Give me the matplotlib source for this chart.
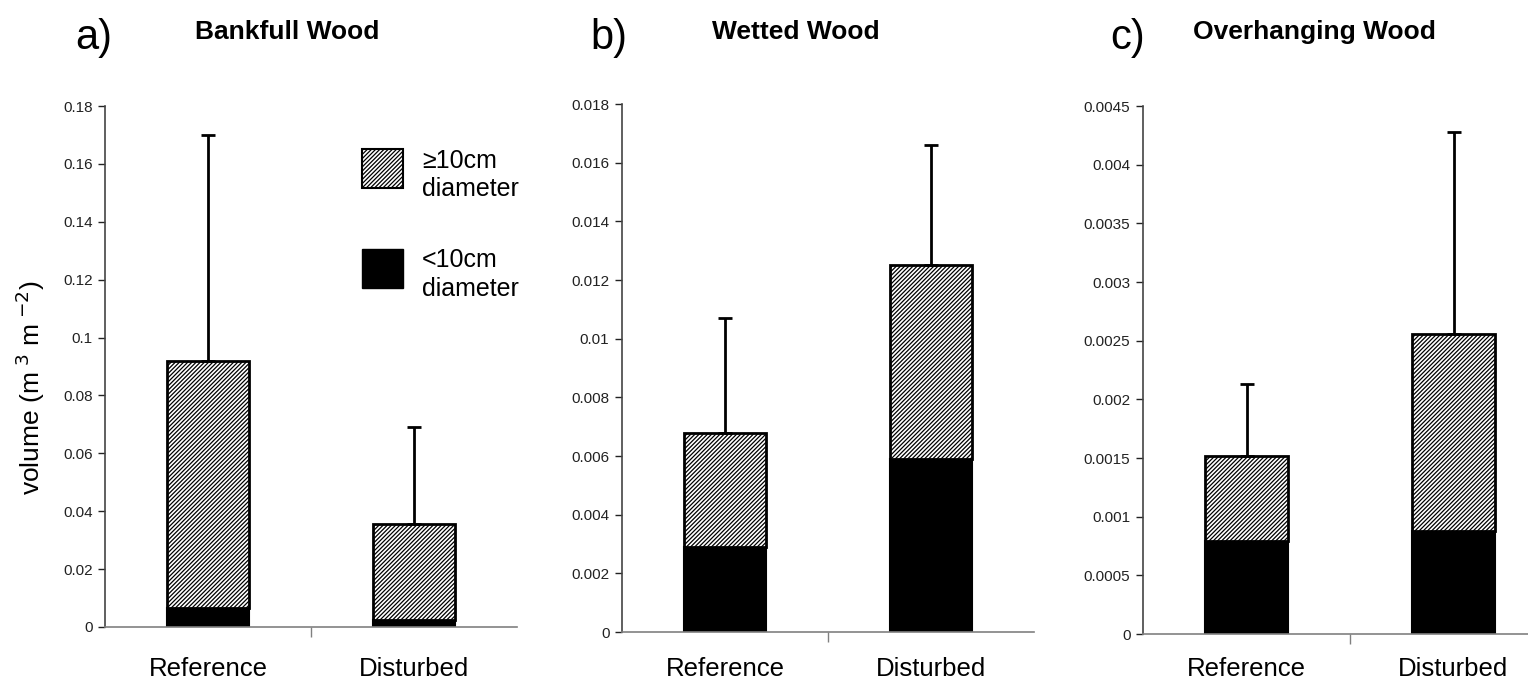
import matplotlib.pyplot as plt
from matplotlib.patches import Rectangle
from matplotlib.ticker import FuncFormatter
from matplotlib.transforms import blended_transform_factory

plt.rcParams['font.family'] = ['Liberation Sans', 'DejaVu Sans']
plt.rcParams['hatch.color'] = '#4a4a4a'
plt.rcParams['hatch.linewidth'] = 0.9

sites = ['Reference', 'Disturbed']

# mean volumes (m3 m-2) split by piece diameter, plus upper error bar
bankfull_small = [0.0065, 0.0023]
bankfull_total = [0.092, 0.0355]
bankfull_upper = [0.170, 0.069]

wetted_small = [0.0029, 0.0059]
wetted_total = [0.0068, 0.0125]
wetted_upper = [0.0107, 0.0166]

overhang_small = [0.00079, 0.00088]
overhang_total = [0.00152, 0.00256]
overhang_upper = [0.00213, 0.00428]

panels = [
    ('a)', 'Bankfull Wood', bankfull_small, bankfull_total, bankfull_upper, 0.18, 0.02),
    ('b)', 'Wetted Wood', wetted_small, wetted_total, wetted_upper, 0.018, 0.002),
    ('c)', 'Overhanging Wood', overhang_small, overhang_total, overhang_upper, 0.0045, 0.0005),
]

HATCH = '////////'

fig = plt.figure(figsize=(15.28, 6.81), dpi=100)
W, H = 1528, 681
# left, right, bottom, top in pixels
boxes = [(105, 517, 627, 106), (622, 1034, 632, 104), (1143, 1557, 634, 106)]
letter_x = [75, 590, 1110]
title_x = [195, 712, 1193]

for i, (letter, title, small, total, upper, ymax, step) in enumerate(panels):
    l, r, b, t = boxes[i]
    ax = fig.add_axes([l / W, 1 - b / H, (r - l) / W, (b - t) / H])
    x = range(len(sites))
    large = [tt - s for tt, s in zip(total, small)]
    err = [u - tt for u, tt in zip(upper, total)]

    ax.bar(x, small, width=0.4, color='black', edgecolor='black', linewidth=1.5)
    ax.bar(x, large, width=0.4, bottom=small, color='white', edgecolor='black',
           linewidth=2, hatch=HATCH)
    ax.errorbar(x, total, yerr=[[0] * len(err), err], fmt='none', ecolor='black',
                elinewidth=2, capsize=5, capthick=2)

    ax.set_xlim(-0.5, 1.5)
    ax.set_ylim(0, ymax)
    n = int(round(ymax / step))
    ax.set_yticks([k * step for k in range(n + 1)])
    ax.yaxis.set_major_formatter(FuncFormatter(lambda v, p: '0' if v == 0 else '{:g}'.format(round(v, 6))))
    ax.set_xticks([0.5])
    ax.set_xticklabels([''])
    # category names sit on a common baseline near the bottom of the figure
    label_tr = blended_transform_factory(ax.transData, fig.transFigure)
    for xi, name in enumerate(sites):
        ax.text(xi, 1 - 676 / H, name, transform=label_tr, ha='center', va='baseline',
                fontsize=18.5, clip_on=False)
    ax.tick_params(axis='y', direction='out', length=5, width=1, labelsize=11, colors='#222222',
                   pad=4)
    ax.tick_params(axis='x', direction='out', length=7, width=1, color='#808080')
    ax.spines['top'].set_visible(False)
    ax.spines['right'].set_visible(False)
    ax.spines['left'].set_color('#444444')
    ax.spines['bottom'].set_color('#808080')
    ax.spines['left'].set_linewidth(1.2)
    ax.spines['bottom'].set_linewidth(1.2)

    fig.text(letter_x[i] / W, 1 - 38 / H, letter, fontsize=30, ha='left', va='center')
    fig.text(title_x[i] / W, 1 - 32 / H, title, fontsize=19, fontweight='bold', ha='left',
             va='center')

    if i == 0:
        ax.set_ylabel('volume (m$^{\\ 3}$ m$^{\\ \\mathrm{-2}}$)', fontsize=19)
        ax.yaxis.set_label_coords(-0.14, 0.46)
        ax.add_patch(Rectangle((0.624, 0.843), 0.0995, 0.074, transform=ax.transAxes,
                               facecolor='white', edgecolor='black', linewidth=1.5,
                               hatch=HATCH, clip_on=False))
        ax.add_patch(Rectangle((0.624, 0.651), 0.0995, 0.074, transform=ax.transAxes,
                               facecolor='black', edgecolor='black', linewidth=1,
                               clip_on=False))
        ax.text(0.77, 0.918, '≥10cm\ndiameter', transform=ax.transAxes, fontsize=18,
                ha='left', va='top', linespacing=1.25)
        ax.text(0.77, 0.727, '<10cm\ndiameter', transform=ax.transAxes, fontsize=18,
                ha='left', va='top', linespacing=1.25)

fig.savefig('out.png', dpi=100)
